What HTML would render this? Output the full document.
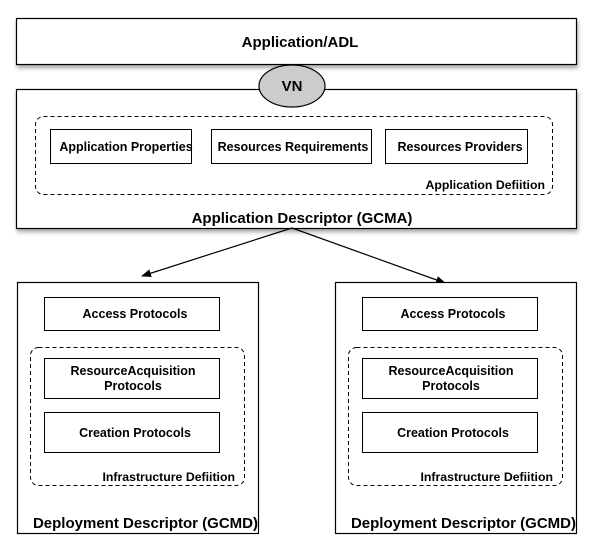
<!DOCTYPE html>
<html><head><style>html,body{margin:0;padding:0;background:#fff;}svg{display:block}</style></head>
<body>
<svg width="592" height="550" viewBox="0 0 592 550" xmlns="http://www.w3.org/2000/svg" font-family="Liberation Sans, Arial, sans-serif" font-weight="bold">
<defs>
<filter id="sh" x="-5%" y="-5%" width="110%" height="130%"><feDropShadow dx="1" dy="3" stdDeviation="2" flood-color="#000" flood-opacity="0.35"/></filter>
<marker id="ar" markerWidth="10" markerHeight="8" refX="9" refY="4" orient="auto" markerUnits="userSpaceOnUse"><path d="M0,0 L10,4 L0,8 z" fill="#000"/></marker>
</defs>
<g fill="#fff" stroke="#000" stroke-width="1.2">
<rect x="16.5" y="18.5" width="560" height="46" filter="url(#sh)"/>
<rect x="16.5" y="89.5" width="560" height="139" filter="url(#sh)"/>
<ellipse cx="292" cy="86" rx="33" ry="21" fill="#cccccc"/>
</g>
<text x="300" y="47" font-size="15" text-anchor="middle">Application/ADL</text>
<text x="292" y="91" font-size="15" text-anchor="middle">VN</text>
<rect x="35.5" y="116.5" width="517" height="78" rx="8" fill="none" stroke="#000" stroke-dasharray="4,3"/>
<g fill="#fff" stroke="#000" stroke-width="1">
<rect x="50.5" y="129.5" width="141" height="34"/>
<rect x="211.5" y="129.5" width="160" height="34"/>
<rect x="385.5" y="129.5" width="142" height="34"/>
</g>
<g font-size="12.5" text-anchor="middle">
<text x="126" y="151">Application Properties</text>
<text x="293" y="151">Resources Requirements</text>
<text x="460" y="151">Resources Providers</text>
</g>
<text x="545" y="189" font-size="12.3" text-anchor="end">Application Defiition</text>
<text x="302" y="223" font-size="15" text-anchor="middle">Application Descriptor (GCMA)</text>
<line x1="292" y1="228" x2="142" y2="276" stroke="#000" stroke-width="1.2" marker-end="url(#ar)"/>
<line x1="292" y1="228" x2="445" y2="283" stroke="#000" stroke-width="1.2" marker-end="url(#ar)"/>
<g id="dd">
<rect x="17.5" y="282.5" width="241" height="251" fill="#fff" stroke="#000" stroke-width="1.2"/>
<rect x="44.5" y="297.5" width="175" height="33" fill="#fff" stroke="#000"/>
<rect x="30.5" y="347.5" width="214" height="138" rx="8" fill="none" stroke="#000" stroke-dasharray="4,3"/>
<rect x="44.5" y="358.5" width="175" height="40" fill="#fff" stroke="#000"/>
<rect x="44.5" y="412.5" width="175" height="40" fill="#fff" stroke="#000"/>
<g font-size="12.5" text-anchor="middle">
<text x="135" y="318">Access Protocols</text>
<text x="133" y="375">ResourceAcquisition</text>
<text x="133" y="390">Protocols</text>
<text x="135" y="437">Creation Protocols</text>
</g>
<text x="235" y="481" font-size="12.3" text-anchor="end">Infrastructure Defiition</text>
<text x="258" y="528" font-size="15" text-anchor="end">Deployment Descriptor (GCMD)</text>
</g>
<use href="#dd" transform="translate(318,0)"/>
</svg>
</body></html>
